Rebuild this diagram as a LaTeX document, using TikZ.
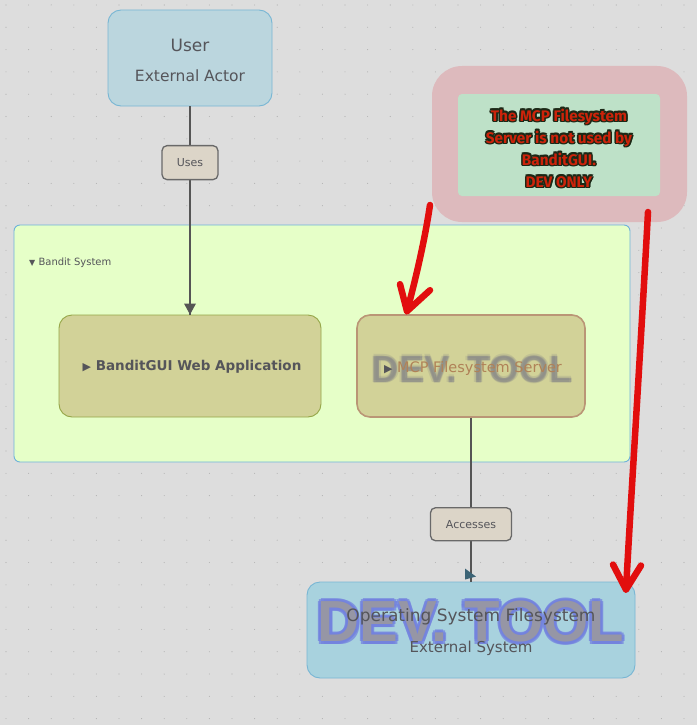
\documentclass[tikz,border=0pt]{standalone}
\usepackage{fontspec}
\setmainfont{DejaVu Sans}
\newfontfamily\notefont{Fira Sans}
\newfontfamily\wmfont{Liberation Sans}
\usetikzlibrary{arrows.meta}
\definecolor{bgcol}{RGB}{221,221,221}
\definecolor{dotcol}{RGB}{178,178,178}
\definecolor{userfill}{RGB}{187,214,222}
\definecolor{userdraw}{RGB}{120,182,212}
\definecolor{sysfill}{RGB}{230,255,200}
\definecolor{sysdraw}{RGB}{110,178,218}
\definecolor{appfill}{RGB}{210,210,152}
\definecolor{appdraw}{RGB}{150,166,72}
\definecolor{mcpdraw}{RGB}{186,150,118}
\definecolor{mcptext}{RGB}{176,130,88}
\definecolor{lblfill}{RGB}{220,213,200}
\definecolor{lbldraw}{RGB}{105,105,105}
\definecolor{linecol}{RGB}{85,85,85}
\definecolor{txtcol}{RGB}{85,85,90}
\definecolor{osfill}{RGB}{168,210,222}
\definecolor{noteout}{RGB}{221,186,189}
\definecolor{notein}{RGB}{190,225,200}
\definecolor{redarr}{RGB}{226,14,14}
\definecolor{notered}{RGB}{205,35,10}
\definecolor{notedark}{RGB}{28,40,22}
\definecolor{wmblue}{RGB}{115,130,222}
\definecolor{wmgray}{RGB}{150,150,165}
\definecolor{tealtip}{RGB}{60,100,118}
\tikzset{
  x=1pt, y=-1pt,
  box/.style={draw, line width=0.9pt, rounded corners=13pt, inner sep=0pt},
  lbl/.style={draw=lbldraw, fill=lblfill, line width=1.3pt, rounded corners=5pt,
    text=txtcol, font=\fontsize{11}{13}\selectfont, inner sep=0pt},
  conn/.style={draw=linecol, line width=2.2pt},
  redline/.style={draw=redarr, line width=6.5pt, line cap=round, line join=round},
  notetext/.style={font=\notefont\bfseries\fontsize{15.3}{22}\selectfont, align=center, inner sep=0pt},
}
\begin{document}
\begin{tikzpicture}
\useasboundingbox (0,0) rectangle (697,725);
\fill[bgcol] (0,0) rectangle (697,725);
\foreach \i in {0,...,30} {
  \foreach \j in {0,...,32} {
    \fill[dotcol] (6+22.6*\i, 5+22.3*\j) circle (0.55pt);
  }
}
% container
\node[draw=sysdraw, fill=sysfill, line width=0.9pt, rounded corners=6pt,
      minimum width=616pt, minimum height=237pt] (sys) at (322,343.5) {};
\node[anchor=west, text=txtcol, font=\fontsize{10}{12}\selectfont, inner sep=0pt] (systitle) at (29,263) {{\fontsize{8}{8}\selectfont▼}\ Bandit System};
% user
\node[box, draw=userdraw, fill=userfill, minimum width=164pt, minimum height=96pt] (user) at (190,58) {};
\node[text=txtcol, font=\fontsize{17}{20}\selectfont, inner sep=0pt] (usert) at (190,45) {User};
\node[text=txtcol, font=\fontsize{15.5}{18}\selectfont, inner sep=0pt] (users) at (190,76) {External Actor};
% app
\node[box, draw=appdraw, fill=appfill, minimum width=262pt, minimum height=102pt] (app) at (190,366) {};
\node[text=txtcol, font=\bfseries\fontsize{13.5}{16}\selectfont, inner sep=0pt] (appt) at (192,367) {{\fontsize{11}{10}\selectfont▶}\ BanditGUI Web Application};
% mcp
\node[box, draw=mcpdraw, line width=1.6pt, fill=appfill, minimum width=228pt, minimum height=102pt] (mcp) at (471,366) {};
\foreach \dx/\dy [count=\k] in {-1.5/0,1.5/0,0/-1.5,0/1.5} {
  \node[text=wmgray!80!black, opacity=0.18, font=\wmfont\bfseries\fontsize{38}{40}\selectfont, inner sep=0pt] (mcpwmb\k) at (472+\dx,369+\dy) {DEV. TOOL};
}
\node[text=wmgray!80!black, opacity=0.35, font=\wmfont\bfseries\fontsize{38}{40}\selectfont, inner sep=0pt] (mcpwm) at (472,369) {DEV. TOOL};
\node[text=mcptext, font=\fontsize{14.5}{17}\selectfont, inner sep=0pt] (mcpt) at (473,368) {{\color{txtcol}\fontsize{11}{10}\selectfont▶}\ MCP Filesystem Server};
% os
\node[box, draw=userdraw, fill=osfill, minimum width=328pt, minimum height=96pt] (os) at (471,630) {};
\foreach \dx/\dy [count=\k] in {-3/0,3/0,0/-3,0/3,-2.1/-2.1,2.1/2.1,-2.1/2.1,2.1/-2.1} {
  \node[text=wmblue, opacity=0.75, font=\wmfont\bfseries\fontsize{58}{60}\selectfont, inner sep=0pt] (oswmb\k) at (471+\dx,622+\dy) {DEV. TOOL};
}
\node[text=wmgray, font=\wmfont\bfseries\fontsize{58}{60}\selectfont, inner sep=0pt] (oswm) at (471,622) {DEV. TOOL};
\node[text=txtcol, font=\fontsize{17}{20}\selectfont, inner sep=0pt] (ost) at (471,617) {Operating System Filesystem};
\node[text=txtcol, font=\fontsize{15}{18}\selectfont, inner sep=0pt] (oss) at (471,648) {External System};
% connectors
\draw[conn] (user.south) -- (app.north) node[pos=0.27, lbl, minimum width=56pt, minimum height=34pt] (uses) {Uses};
\fill[linecol] (app.north) -- ++(-6,-11) -- ++(12,0) -- cycle;
\draw[conn] (mcp.south) -- (os.north) node[pos=0.65, lbl, minimum width=81pt, minimum height=33pt] (acc) {Accesses};
\fill[tealtip] (os.north) ++(-6,-2) -- ++(0,-11) -- ++(11,8) -- cycle;
% note
\node[fill=noteout, rounded corners=30pt, minimum width=255pt, minimum height=156pt] (note) at (559.5,144) {};
\node[fill=notein, rounded corners=4pt, minimum width=202pt, minimum height=102pt] (notein) at (559,145) {};
\foreach \dx/\dy [count=\k] in {-1.6/0,1.6/0,0/-1.6,0/1.6,-1.1/-1.1,1.1/1.1,-1.1/1.1,1.1/-1.1} {
  \node[notetext, text=notedark] (ntc\k) at (559+\dx,148+\dy) {The MCP Filesystem\\Server is not used by\\BanditGUI.\\DEV ONLY};
}
\node[notetext, text=notered] (ntext) at (559,148) {The MCP Filesystem\\Server is not used by\\BanditGUI.\\DEV ONLY};
% red arrows
\coordinate (r1s) at (430,205);
\coordinate (r1e) at ([shift={(-64,-3)}]mcp.north);
\coordinate (r2s) at (648,212);
\coordinate (r2e) at ([shift={(155,8)}]os.north);
\draw[redline] (r1s) .. controls (424,245) and (414,285) .. (r1e);
\draw[redline] (r1e) ++(-7,-27) -- (r1e) -- ++(23,-21);
\draw[redline] (r2s) .. controls (640,360) and (632,480) .. (r2e);
\draw[redline] (r2e) ++(-13,-25) -- (r2e) -- ++(15,-24);
\end{tikzpicture}
\end{document}
